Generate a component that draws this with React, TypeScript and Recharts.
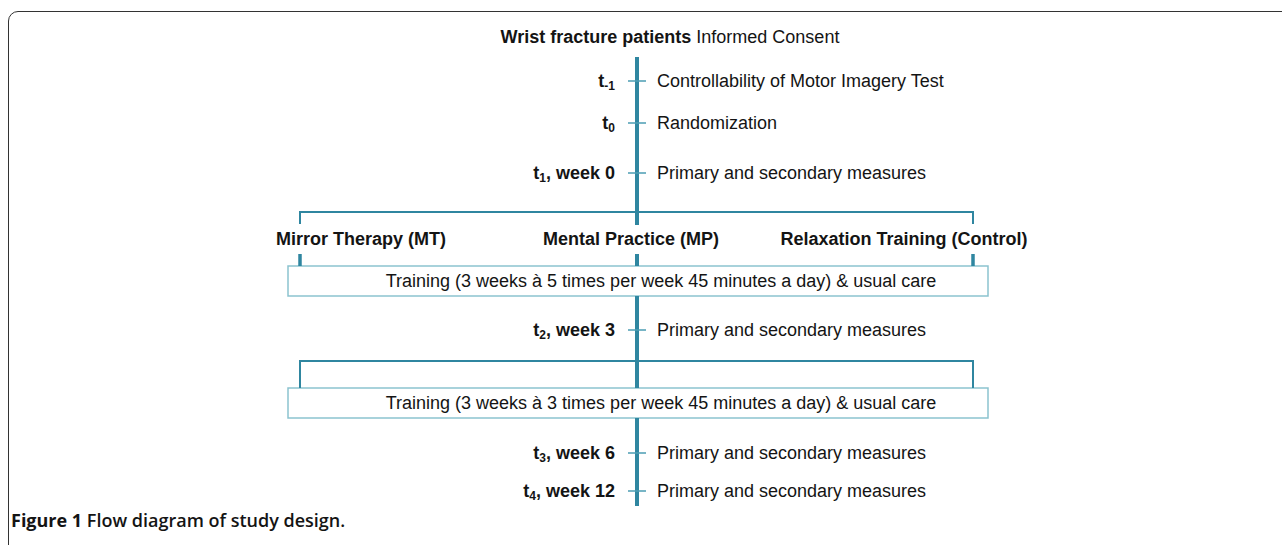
import { ComposedChart, XAxis, YAxis, Scatter, ReferenceLine, ReferenceArea } from 'recharts'

const W = 1282
const H = 545

const TEAL = '#2f86a0'
const TICK_TEAL = '#4b9db3'
const BOX_TEAL = '#8cc3cf'
const INK = '#141414'
const FONT = '"Liberation Sans", Arial, Helvetica, sans-serif'

// diagram columns / rows
const SPINE_COL = 637
const BRANCH_COLS = [300, 637, 973]

const timepoints = [
  { sub: '-1', suffix: '', measure: 'Controllability of Motor Imagery Test', row: 81 },
  { sub: '0', suffix: '', measure: 'Randomization', row: 123 },
  { sub: '1', suffix: ', week 0', measure: 'Primary and secondary measures', row: 173 },
  { sub: '2', suffix: ', week 3', measure: 'Primary and secondary measures', row: 330 },
  { sub: '3', suffix: ', week 6', measure: 'Primary and secondary measures', row: 453 },
  { sub: '4', suffix: ', week 12', measure: 'Primary and secondary measures', row: 491 },
]

const groups = [
  { name: 'Mirror Therapy (MT)', col: 361 },
  { name: 'Mental Practice (MP)', col: 631 },
  { name: 'Relaxation Training (Control)', col: 904 },
]
const GROUP_ROW = 239

const trainingPhases = [
  { text: 'Training (3 weeks à 5 times per week 45 minutes a day) & usual care', top: 266, bottom: 296 },
  { text: 'Training (3 weeks à 3 times per week 45 minutes a day) & usual care', top: 388, bottom: 418 },
]
const BOX_LEFT = 288
const BOX_RIGHT = 988

// spine pieces between the boxes and group labels
const spineSpans = [
  [57, 225],
  [254, 266],
  [296, 388],
  [418, 506],
]

// brackets: [bar row, drop end row]
const brackets = [
  [212, 224],
  [361, 388],
]
const STUB_SPAN = [254, 266]

const title = { bold: 'Wrist fracture patients', rest: ' Informed Consent', col: 670, row: 37 }
const caption = { bold: 'Figure 1', rest: ' Flow diagram of study design.', col: 11, row: 520 }

const TimepointMark = (props: any) => {
  const { cx, cy, payload } = props
  return (
    <g>
      <line x1={cx - 9} x2={cx + 9} y1={cy} y2={cy} stroke={TICK_TEAL} strokeWidth={1.5} />
      <text x={cx - 22} y={cy} textAnchor="end" dominantBaseline="central" fontFamily={FONT} fontSize={18} fontWeight="bold" fill={INK}>
        <tspan>t</tspan>
        <tspan fontSize={12} dy={5}>{payload.sub}</tspan>
        <tspan dy={-5}>{payload.suffix}</tspan>
      </text>
      <text x={cx + 20} y={cy} dominantBaseline="central" fontFamily={FONT} fontSize={18} fill={INK}>
        {payload.measure}
      </text>
    </g>
  )
}

const GroupLabel = (props: any) => (
  <text x={props.cx} y={props.cy} textAnchor="middle" dominantBaseline="central" fontFamily={FONT} fontSize={18} fontWeight="bold" fill={INK}>
    {props.payload.name}
  </text>
)

const BoxText = (props: any) => (
  <text x={props.cx} y={props.cy} textAnchor="middle" dominantBaseline="central" fontFamily={FONT} fontSize={18} fill={INK}>
    {props.payload.text}
  </text>
)

const TwoPartText = (props: any) => {
  const { cx, cy, payload } = props
  return (
    <text x={cx} y={cy} textAnchor={payload.anchor} dominantBaseline="central" fontFamily={payload.font} fontSize={payload.size} fill={INK}>
      <tspan fontWeight="bold">{payload.bold}</tspan>
      <tspan fontWeight={payload.restWeight}>{payload.rest}</tspan>
    </text>
  )
}

export default function App() {
  const tpData = timepoints.map((t) => ({ ...t, col: SPINE_COL }))
  const groupData = groups.map((g) => ({ ...g, row: GROUP_ROW }))
  const boxData = trainingPhases.map((p) => ({ ...p, col: 661, row: (p.top + p.bottom) / 2 }))
  const headData = [
    { ...title, anchor: 'middle', font: FONT, size: 18, restWeight: 'normal' },
    { ...caption, anchor: 'start', font: '"Open Sans", "Noto Sans", sans-serif', size: 18, restWeight: 600 },
  ]

  return (
    <div style={{ position: 'absolute', left: 0, top: 0, width: W, height: H, overflow: 'hidden', background: '#fff' }}>
      <div
        style={{
          position: 'absolute',
          left: 8,
          top: 11,
          width: W + 40,
          height: H + 40,
          border: '1.5px solid #333',
          borderRadius: 10,
          boxSizing: 'border-box',
        }}
      />
      <div style={{ position: 'absolute', left: 0, top: 0 }}>
        <ComposedChart width={W} height={H} margin={{ top: 0, right: 0, bottom: 0, left: 0 }}>
          <XAxis type="number" dataKey="col" domain={[0, W]} hide allowDataOverflow />
          <YAxis type="number" dataKey="row" domain={[0, H]} reversed hide allowDataOverflow />

          {spineSpans.map(([a, b], i) => (
            <ReferenceLine key={`sp${i}`} segment={[{ x: SPINE_COL, y: a }, { x: SPINE_COL, y: b }]} stroke={TEAL} strokeWidth={4} />
          ))}

          {brackets.map(([bar], i) => (
            <ReferenceLine key={`br${i}`} segment={[{ x: BRANCH_COLS[0], y: bar }, { x: BRANCH_COLS[2], y: bar }]} stroke={TEAL} strokeWidth={2} />
          ))}
          {brackets.flatMap(([bar, end], i) =>
            [BRANCH_COLS[0], BRANCH_COLS[2]].map((c) => (
              <ReferenceLine key={`dr${i}-${c}`} segment={[{ x: c, y: bar - 1 }, { x: c, y: end }]} stroke={TEAL} strokeWidth={2} />
            ))
          )}
          {BRANCH_COLS.map((c) => (
            <ReferenceLine key={`st${c}`} segment={[{ x: c, y: STUB_SPAN[0] }, { x: c, y: STUB_SPAN[1] }]} stroke={TEAL} strokeWidth={3.5} />
          ))}

          {trainingPhases.map((p, i) => (
            <ReferenceArea key={`bx${i}`} x1={BOX_LEFT} x2={BOX_RIGHT} y1={p.top} y2={p.bottom} fill="#fff" fillOpacity={1} stroke={BOX_TEAL} strokeWidth={1.5} />
          ))}

          <Scatter data={tpData} dataKey="row" shape={TimepointMark} isAnimationActive={false} />
          <Scatter data={groupData} dataKey="row" shape={GroupLabel} isAnimationActive={false} />
          <Scatter data={boxData} dataKey="row" shape={BoxText} isAnimationActive={false} />
          <Scatter data={headData} dataKey="row" shape={TwoPartText} isAnimationActive={false} />
        </ComposedChart>
      </div>
    </div>
  )
}
